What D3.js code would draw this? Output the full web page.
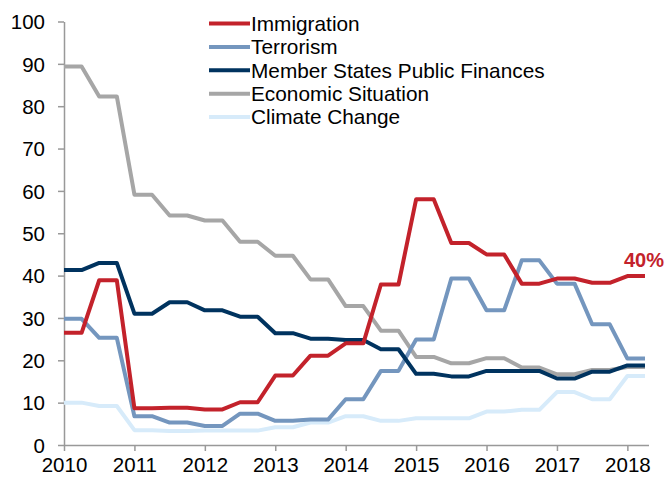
<!DOCTYPE html>
<html><head><meta charset="utf-8">
<script src="https://cdn.jsdelivr.net/npm/d3@7"></script>
<style>body{margin:0;background:#fff}svg{display:block}text{font-family:"Liberation Sans",Arial,sans-serif}</style>
</head><body><svg id="c" width="667" height="481"></svg>
<script>
// semi-annual survey waves, 2010 H1 .. 2018 H1 (each value holds for two quarters)
const waves = [2010,2010.5,2011,2011.5,2012,2012.5,2013,2013.5,2014,2014.5,2015,2015.5,2016,2016.5,2017,2017.5,2018];
const immigration = [26.5,38.9,8.7,8.8,8.4,10.1,16.4,21.1,24.0,37.9,58.0,47.7,45.0,38.1,39.3,38.3,39.9];
const terrorism   = [29.8,25.3,6.8,5.3,4.5,7.4,5.7,6.0,10.8,17.5,24.9,39.3,31.8,43.6,38.1,28.5,20.4];
const publicFin   = [41.3,43.0,31.0,33.7,31.8,30.3,26.4,25.1,24.8,22.6,16.8,16.2,17.5,17.5,15.7,17.3,18.8];
const economic    = [89.4,82.3,59.1,54.2,53.0,48.0,44.7,39.1,32.8,27.0,20.8,19.3,20.5,18.3,16.7,17.7,18.4];
const climate     = [10.0,9.2,3.5,3.3,3.4,3.4,4.2,5.3,6.8,5.7,6.3,6.3,7.9,8.3,12.5,10.8,16.3];
const seriesNames = ["Immigration","Terrorism","Member States Public Finances","Economic Situation","Climate Change"];
const colors = ["#C3222B","#7496BE","#00335F","#A6A6A6","#D7EBFA"];
const yTicks = [0,10,20,30,40,50,60,70,80,90,100];
const xTicks = [2010,2011,2012,2013,2014,2015,2016,2017,2018];
const endLabel = "40%";

const allSeries = [immigration,terrorism,publicFin,economic,climate];
const svg = d3.select("#c");
const x = d3.scaleLinear().domain([2010,2018.3]).range([64,648.5]);
const y = d3.scaleLinear().domain([0,100]).range([445,21.5]);

// axes
const ax = svg.append("g").attr("transform","translate(0,445)")
  .call(d3.axisBottom(x).tickValues(xTicks).tickFormat(d3.format("d")).tickSize(6).tickSizeOuter(0));
const ay = svg.append("g").attr("transform","translate(64,0)")
  .call(d3.axisLeft(y).tickValues(yTicks).tickSize(6).tickSizeOuter(0));
[ax,ay].forEach(g=>{
  g.select(".domain").attr("stroke","#999").attr("stroke-width",1.5);
  g.selectAll(".tick line").attr("stroke","#999").attr("stroke-width",1.5);
  g.selectAll("text").attr("fill","#000").style("font-size","20.5px").style("font-family","Liberation Sans, Arial, sans-serif");
});
ax.selectAll("text").attr("dy","0.95em").attr("y",8);
ay.selectAll("text").attr("x",-19).attr("dy","0.35em");

// expand each wave to two quarterly points
function pts(vals){
  const out=[];
  vals.forEach((v,i)=>{out.push([waves[i],v]);out.push([waves[i]+0.25,v]);});
  return out;
}
const line = d3.line().x(d=>x(d[0])).y(d=>y(d[1]));
// draw order: back to front
const order=[4,3,1,2,0];
order.forEach(i=>{
  svg.append("path").datum(pts(allSeries[i])).attr("d",line)
    .attr("fill","none").attr("stroke",colors[i]).attr("stroke-width",4)
    .attr("stroke-linejoin","round");
});

// legend
const lg = svg.append("g");
seriesNames.forEach((n,i)=>{
  const yy = 23.5 + i*23.4;
  lg.append("line").attr("x1",209).attr("x2",250).attr("y1",yy).attr("y2",yy)
    .attr("stroke",colors[i]).attr("stroke-width",4);
  lg.append("text").attr("x",251).attr("y",yy).attr("dy","0.35em")
    .style("font-size","20.8px").attr("fill","#000").text(n);
});

// end label
const last = immigration[immigration.length-1];
svg.append("text").attr("x",644).attr("y",y(last)-9).attr("text-anchor","middle")
  .style("font-size","20px").style("font-weight","bold").attr("fill",colors[0]).text(endLabel);
</script></body></html>
